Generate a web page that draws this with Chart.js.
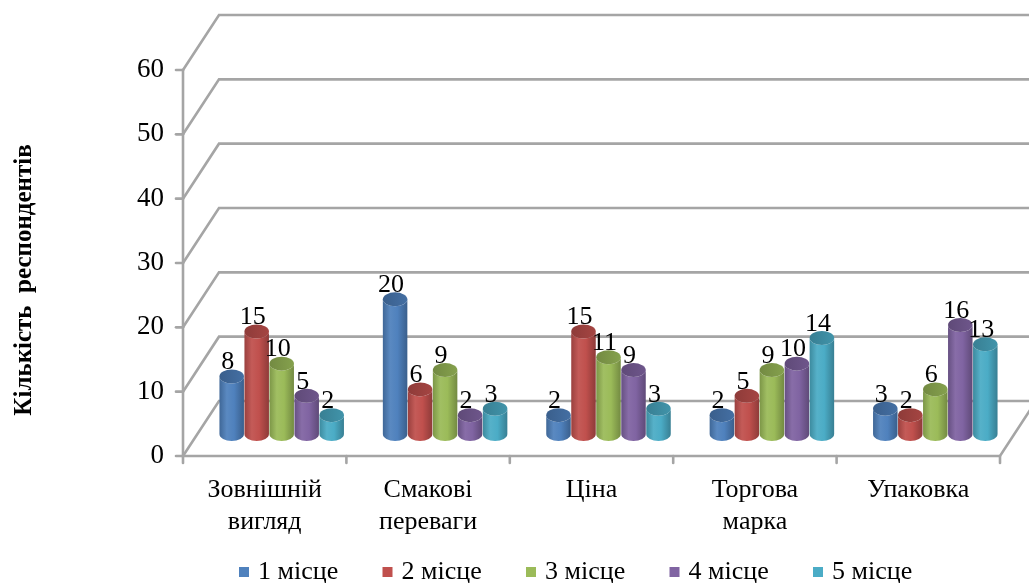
<!DOCTYPE html>
<html lang="uk">
<head>
<meta charset="utf-8">
<title>Кількість респондентів</title>
<script src="https://cdn.jsdelivr.net/npm/chart.js@4.4.1/dist/chart.umd.min.js"></script>
<style>
  html, body { margin: 0; padding: 0; background: #fff; }
  #wrap { width: 1029px; height: 583px; }
</style>
</head>
<body>
<div id="wrap"><canvas id="rankChart"></canvas></div>
<script>
const categories = [['Зовнішній', 'вигляд'], ['Смакові', 'переваги'], 'Ціна', ['Торгова', 'марка'], 'Упаковка'];
const placeLabels = ['1 місце', '2 місце', '3 місце', '4 місце', '5 місце'];
const place1 = [8, 20, 2, 2, 3];
const place2 = [15, 6, 15, 5, 2];
const place3 = [10, 9, 11, 9, 6];
const place4 = [5, 2, 9, 10, 16];
const place5 = [2, 3, 3, 14, 13];
const yTicks = [0, 10, 20, 30, 40, 50, 60];
const colors = ['#4F81BD', '#C0504D', '#9BBB59', '#8064A2', '#4BACC6'];

const SERIF = "'Liberation Serif', 'Times New Roman', serif";
const DEPTH_X = 36, DEPTH_Y = 55;      // depth of the 3d box
const BAR_DX = 17, BAR_TOP_DY = 28, BAR_BASE_DY = 22, CAP_RY = 7;
const LINE = '#a5a5a5';

function shade(hex, f) {
  const n = parseInt(hex.slice(1), 16);
  const ch = [(n >> 16) & 255, (n >> 8) & 255, n & 255].map(c => {
    const v = f >= 1 ? c + (255 - c) * (f - 1) : c * f;
    return Math.round(Math.max(0, Math.min(255, v)));
  });
  return `rgb(${ch[0]},${ch[1]},${ch[2]})`;
}

// box walls, floor and axis lines
const framePlugin = {
  id: 'frame3d',
  beforeDatasetsDraw(chart) {
    const {ctx, chartArea: {left, right, bottom}, scales: {x, y}} = chart;
    ctx.save();
    ctx.strokeStyle = LINE;
    ctx.lineWidth = 2.6;
    ctx.lineCap = 'round';
    yTicks.forEach(v => {
      const py = y.getPixelForValue(v);
      ctx.beginPath();
      ctx.moveTo(left, py);
      ctx.lineTo(left + DEPTH_X, py - DEPTH_Y);
      ctx.lineTo(chart.width + 20, py - DEPTH_Y);
      ctx.stroke();
      ctx.beginPath();
      ctx.moveTo(left - 7, py);
      ctx.lineTo(left, py);
      ctx.stroke();
    });
    ctx.beginPath();
    ctx.moveTo(left, y.getPixelForValue(yTicks[yTicks.length - 1]));
    ctx.lineTo(left, bottom);
    ctx.lineTo(right, bottom);
    ctx.lineTo(right + DEPTH_X, bottom - DEPTH_Y);
    ctx.stroke();
    for (let k = 0; k <= categories.length; k++) {
      const px = x.getPixelForValue(k - 0.5);
      ctx.beginPath();
      ctx.moveTo(px, bottom);
      ctx.lineTo(px, bottom + 7);
      ctx.stroke();
    }
    ctx.restore();
  },
  beforeDatasetDraw() {
    return false;
  },
  afterDatasetsDraw(chart) {
    const {ctx, scales: {y}} = chart;
    const metas = chart.data.datasets.map((d, i) => chart.getDatasetMeta(i));
    ctx.save();
    for (let j = 0; j < categories.length; j++) {
      metas.forEach((meta, i) => {
        const el = meta.data[j];
        const cx = el.x + BAR_DX;
        const rx = el.width * 0.49;
        const topY = el.y - BAR_TOP_DY;
        const botY = el.base - BAR_BASE_DY;
        const base = colors[i];
        const g = ctx.createLinearGradient(cx - rx, 0, cx + rx, 0);
        g.addColorStop(0, shade(base, 0.8));
        g.addColorStop(0.3, shade(base, 1.06));
        g.addColorStop(0.6, shade(base, 1.0));
        g.addColorStop(1, shade(base, 0.74));
        ctx.beginPath();
        ctx.moveTo(cx - rx, topY);
        ctx.lineTo(cx - rx, botY);
        ctx.ellipse(cx, botY, rx, CAP_RY, 0, Math.PI, 0, true);
        ctx.lineTo(cx + rx, topY);
        ctx.ellipse(cx, topY, rx, CAP_RY, 0, 0, Math.PI, false);
        ctx.closePath();
        ctx.fillStyle = g;
        ctx.fill();
        const tg = ctx.createLinearGradient(cx - rx, topY, cx + rx, topY);
        tg.addColorStop(0, shade(base, 0.74));
        tg.addColorStop(1, shade(base, 0.86));
        ctx.beginPath();
        ctx.ellipse(cx, topY, rx, CAP_RY, 0, 0, Math.PI * 2);
        ctx.fillStyle = tg;
        ctx.fill();
      });
    }
    // value labels
    ctx.fillStyle = '#000';
    ctx.font = `26px ${SERIF}`;
    ctx.textAlign = 'center';
    ctx.textBaseline = 'middle';
    metas.forEach((meta, i) => {
      meta.data.forEach((el, j) => {
        const v = chart.data.datasets[i].data[j];
        ctx.fillText(String(v), el.x + 13, y.getPixelForValue(v) - 42);
      });
    });
    ctx.restore();
  },
  afterDraw(chart) {
    const {ctx} = chart;
    ctx.save();
    // axis title
    ctx.translate(25, 280);
    ctx.rotate(-Math.PI / 2);
    ctx.fillStyle = '#000';
    ctx.font = `bold 25px ${SERIF}`;
    ctx.textAlign = 'center';
    ctx.textBaseline = 'middle';
    ctx.fillText('Кількість  респондентів', 0, 0);
    ctx.restore();
    // legend
    ctx.save();
    ctx.font = `26px ${SERIF}`;
    ctx.textBaseline = 'middle';
    ctx.textAlign = 'left';
    chart.data.datasets.forEach((ds, i) => {
      const lx = 239 + i * 143.5;
      const ly = 572;
      ctx.fillStyle = ds.backgroundColor;
      ctx.fillRect(lx, ly - 5, 10, 10);
      ctx.fillStyle = '#000';
      ctx.fillText(ds.label, lx + 19, ly);
    });
    ctx.restore();
  }
};

const seriesData = [place1, place2, place3, place4, place5];

new Chart(document.getElementById('rankChart'), {
  type: 'bar',
  data: {
    labels: categories,
    datasets: seriesData.map((d, i) => ({
      label: placeLabels[i],
      data: d,
      backgroundColor: colors[i],
      categoryPercentage: 0.765,
      barPercentage: 1.0
    }))
  },
  options: {
    responsive: true,
    maintainAspectRatio: false,
    animation: false,
    layout: { padding: { left: 0, right: 29, top: 70, bottom: 0 } },
    plugins: {
      legend: { display: false },
      tooltip: { enabled: false }
    },
    scales: {
      x: {
        grid: { display: false, drawTicks: false },
        border: { display: false },
        ticks: {
          color: '#000',
          padding: 19,
          maxRotation: 0,
          autoSkip: false,
          font: { family: SERIF, size: 26, lineHeight: 1.2 }
        },
        afterFit(scale) { scale.height = 127; }
      },
      y: {
        min: 0,
        max: 60,
        grid: { display: false, drawTicks: false },
        border: { display: false },
        ticks: {
          stepSize: 10,
          color: '#000',
          padding: 19,
          font: { family: SERIF, size: 27 }
        },
        afterFit(scale) { scale.width = 183; }
      }
    }
  },
  plugins: [framePlugin]
});
</script>
</body>
</html>
